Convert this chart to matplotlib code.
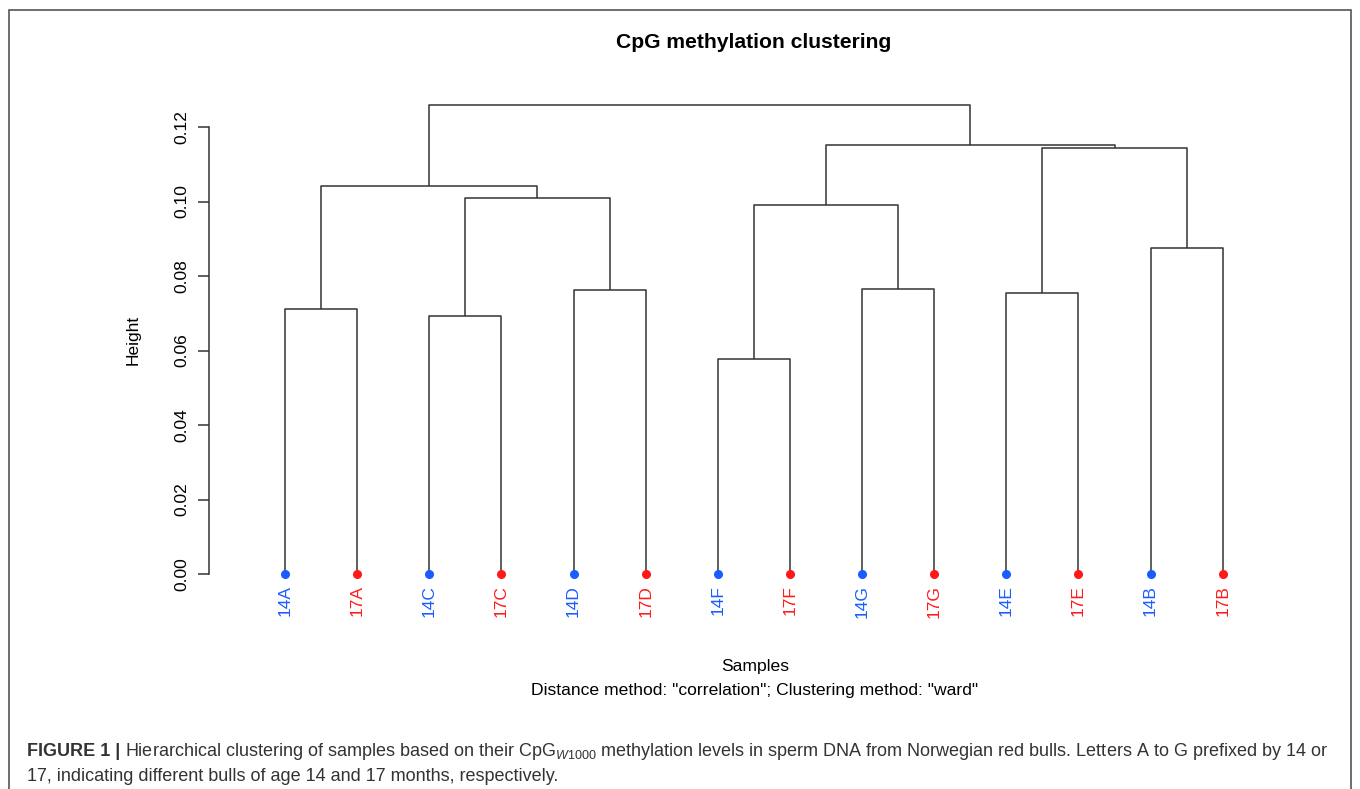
import numpy as np
import matplotlib
matplotlib.use('Agg')
import matplotlib.pyplot as plt
from matplotlib.patches import Rectangle

plt.rcParams['font.family'] = ['Liberation Sans', 'DejaVu Sans']
plt.rcParams['mathtext.fontset'] = 'custom'
plt.rcParams['mathtext.rm'] = 'Liberation Sans'
plt.rcParams['mathtext.it'] = 'Liberation Sans:italic'

# leaf order as drawn
leaves = ['14A', '17A', '14C', '17C', '14D', '17D', '14F',
          '17F', '14G', '17G', '14E', '17E', '14B', '17B']

# merges: children (leaf label or m<i>) and height
merge_a = ['14F', '14C', '14A', '14E', '14D', '14G', '14B',
           'm1', 'm2', 'm3', 'm4', 'm8', 'm10']
merge_b = ['17F', '17C', '17A', '17E', '17D', '17G', '17B',
           'm6', 'm5', 'm9', 'm7', 'm11', 'm12']
merge_h = [0.0578, 0.0693, 0.0712, 0.0755, 0.0762, 0.0764, 0.0876,
           0.0990, 0.1010, 0.1042, 0.1144, 0.1153, 0.1259]

yticks = [0.00, 0.02, 0.04, 0.06, 0.08, 0.10, 0.12]

blue = '#1a5cff'
red = '#ff1a1a'
linecol = '#333333'

W, H = 1360, 789
fig = plt.figure(figsize=(13.6, 7.89), dpi=100)

# axes placed so leaves and heights fall where they do in the figure
ax_l, ax_r = 208.7, 1299
ax_b, ax_t = 574, 97.2
ax = fig.add_axes([ax_l / W, 1 - ax_b / H, (ax_r - ax_l) / W, (ax_b - ax_t) / H])
ax.set_xlim(-0.057, 15.057)
ax.set_ylim(0, 0.128)

pos = {}
for i, lab in enumerate(leaves):
    pos[lab] = (i + 1, 0.0)

for k in range(len(merge_h)):
    xa, ya = pos[merge_a[k]]
    xb, yb = pos[merge_b[k]]
    h = merge_h[k]
    ax.plot([xa, xa, xb, xb], [ya, h, h, yb], color=linecol, lw=1.1,
            clip_on=False, solid_capstyle='butt')
    pos['m%d' % (k + 1)] = ((xa + xb) / 2, h)

for i, lab in enumerate(leaves):
    c = blue if lab.startswith('14') else red
    ax.plot(i + 1, 0, 'o', color=c, ms=5.5, clip_on=False, zorder=3)
    ax.annotate(lab, (i + 1, 0), xytext=(0, -8), textcoords='offset points',
                rotation=90, ha='center', va='top', color=c, fontsize=12.5)

for s in ['top', 'right', 'bottom']:
    ax.spines[s].set_visible(False)
ax.spines['left'].set_bounds(0, 0.12)
ax.spines['left'].set_color(linecol)
ax.spines['left'].set_linewidth(1.1)
ax.set_xticks([])
ax.set_yticks(yticks)
ax.set_yticklabels(['%.2f' % v for v in yticks], rotation=90, va='center')
ax.tick_params(axis='y', length=8, width=1.1, color=linecol, pad=6,
               labelsize=12.5)
ax.patch.set_visible(False)

fig.text(754 / W, 1 - 43 / H, 'CpG methylation clustering', ha='center',
         va='center', fontsize=15.2, fontweight='bold')
fig.text(133 / W, 1 - 340 / H, 'Height', rotation=90, ha='center',
         va='center', fontsize=12.5)
fig.text(755 / W, 1 - 667 / H, 'Samples', ha='center', va='center',
         fontsize=12.6)
fig.text(755 / W, 1 - 690 / H,
         'Distance method: "correlation"; Clustering method: "ward"',
         ha='center', va='center', fontsize=12.6)

# caption
capcol = '#333333'
t1 = fig.text(27 / W, 1 - 756 / H, 'FIGURE 1 |', fontsize=13,
              fontweight='bold', color=capcol, va='baseline')
fig.canvas.draw()
bb = t1.get_window_extent()
fig.text((bb.x1 + 5) / W, 1 - 756 / H,
         r'Hierarchical clustering of samples based on their CpG$_{\mathit{W}1000}$'
         ' methylation levels in sperm DNA from Norwegian red bulls. Letters A to G'
         ' prefixed by 14 or', fontsize=13, color=capcol, va='baseline')
fig.text(27 / W, 1 - 781 / H,
         '17, indicating different bulls of age 14 and 17 months, respectively.',
         fontsize=13, color=capcol, va='baseline')

# frame around the figure panel
fig.patches.append(Rectangle((8.5 / W, -0.05), (1351 - 8.5) / W,
                             1.05 - 9.5 / H, transform=fig.transFigure,
                             fill=False, edgecolor='#555555', lw=1.2))

fig.savefig('out.png', dpi=100)
